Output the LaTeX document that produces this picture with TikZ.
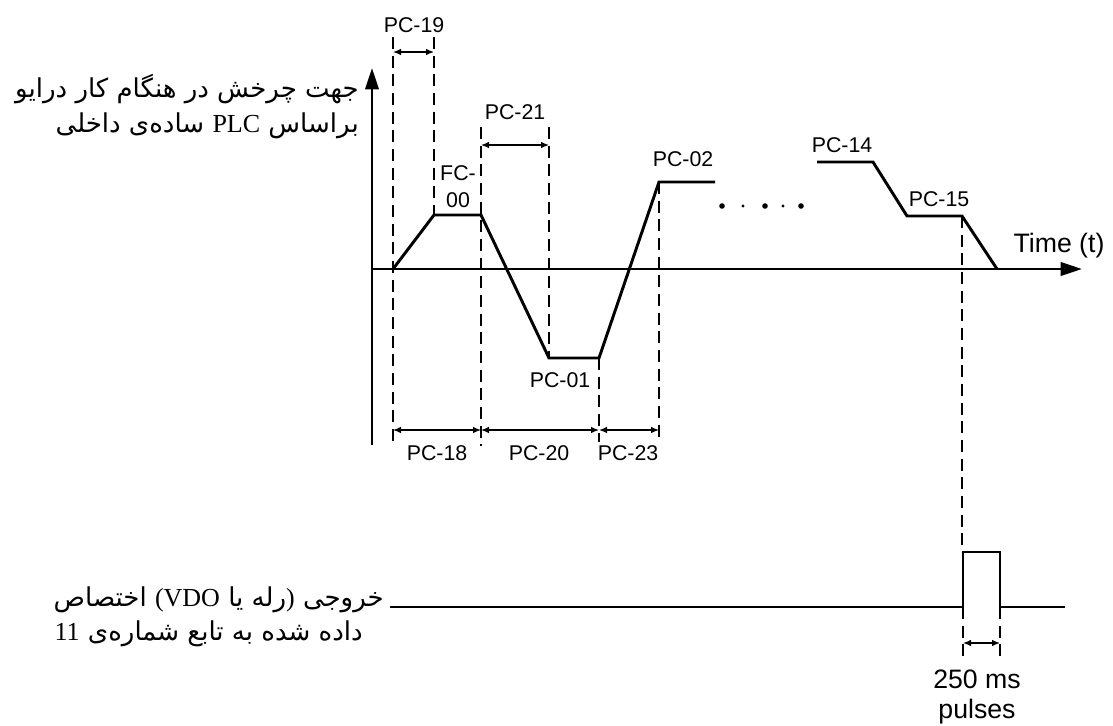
\documentclass[tikz,border=0pt]{standalone}
\usepackage{fontspec}
\setmainfont{Liberation Sans}
\newfontfamily\persianfont[Script=Arabic]{DejaVu Sans}
\newfontfamily\latinserif{Liberation Serif}
\TeXXeTstate=1
\usetikzlibrary{arrows.meta}

\newcommand{\lat}[1]{{\latinserif\fontsize{19.5}{23}\selectfont\beginL #1\endL}}
\newcommand{\latp}[1]{{\latinserif\fontsize{19.5}{23}\selectfont #1}}

\begin{document}
\begin{tikzpicture}[x=0.75pt, y=-0.75pt,
	wave/.style={line width=2.2pt, line join=miter},
	axis/.style={line width=2.2pt, -{Triangle[length=16pt, width=10pt]}},
	guide/.style={line width=2pt, dash pattern=on 9pt off 5pt},
	span/.style={{Latex[length=6pt, width=5pt]}-{Latex[length=6pt, width=5pt]}, line width=1pt},
	lbl/.style={font=\fontsize{16}{18}\selectfont, inner sep=0pt},
	big/.style={font=\fontsize{20}{23}\selectfont, inner sep=0pt},
	fa/.style={font=\persianfont\fontsize{19.5}{23}\selectfont, inner sep=0pt}
]
	\useasboundingbox (0,0) rectangle (1113,725);

	% Axes
	\coordinate (o)  at (372,269);
	\coordinate (yt) at (372,68);
	\coordinate (yb) at (372,445);
	\coordinate (xt) at (1082,269);
	\draw[axis] (yb) -- (yt);
	\draw[axis] (o) -- (xt);

	% Speed profile of the simple PLC
	\coordinate (p0) at (393,269);
	\coordinate (p1) at (434,215);
	\coordinate (p2) at (481,215);
	\coordinate (p3) at (549,358);
	\coordinate (p4) at (599,358);
	\coordinate (p5) at (659,182);
	\coordinate (p6) at (715,182);
	\draw[wave] (p0) -- (p1) -- (p2) -- (p3) -- (p4) -- (p5) -- (p6);

	\coordinate (q0) at (817,162);
	\coordinate (q1) at (873,162);
	\coordinate (q2) at (907,216);
	\coordinate (q3) at (962,216);
	\coordinate (q4) at (997,269);
	\draw[wave] (q0) -- (q1) -- (q2) -- (q3) -- (q4);

	% Dots between the segments
	\foreach \xx/\rr in {722/2.8, 743/1.6, 765/2.8, 783/1.6, 801/2.8}
		\fill (\xx,206) circle (\rr);

	% Dashed guides
	\draw[guide] (393,37) -- (393,442);
	\draw[guide] (434,37) -- (p1);
	\draw[guide] (481,127) -- (481,446);
	\draw[guide] (549,127) -- (p3);
	\draw[guide] (p4) -- (599,442);
	\draw[guide] (p5) -- (659,442);
	\draw[guide] (q3) -- (962,552);

	% Time spans
	\draw[span] (393,52) -- (434,52);
	\draw[span] (481,145) -- (549,145);
	\draw[span] (393,430) -- (481,430);
	\draw[span] (481,430) -- (599,430);
	\draw[span] (599,430) -- (659,430);

	% Labels
	\node[lbl] (pc19) at (414,25) {PC-19};
	\node[lbl] (pc21) at (515,112) {PC-21};
	\node[lbl] (fc)   at (458,173) {FC-};
	\node[lbl] (fc00) at (458,200) {00};
	\node[lbl] (pc02) at (683,159) {PC-02};
	\node[lbl] (pc01) at (560,380) {PC-01};
	\node[lbl] (pc14) at (842,145) {PC-14};
	\node[lbl] (pc15) at (939,199) {PC-15};
	\node[lbl] (pc18) at (437,453) {PC-18};
	\node[lbl] (pc20) at (539,453) {PC-20};
	\node[lbl] (pc23) at (628,453) {PC-23};
	\node[big] (time) at (1059,246) {Time (t)};

	% Output signal
	\coordinate (s0) at (390,607);
	\coordinate (s1) at (963,607);
	\coordinate (s2) at (963,552);
	\coordinate (s3) at (1000,552);
	\coordinate (s4) at (1000,607);
	\coordinate (s5) at (1065,607);
	\draw[wave] (s0) -- (s1) -- (s2) -- (s3) -- (s4) -- (s5);
	\draw[guide] (s1) -- (963,662);
	\draw[guide] (s4) -- (1000,662);
	\draw[span] (963,643) -- (1000,643);
	\node[big] (ms)  at (977,679) {250 ms};
	\node[big] (pul) at (977,712) {pulses};

	% Persian captions
	\node[fa, anchor=base east] (ytitle1) at (359,97)
		{\beginR جهت چرخش در هنگام کار درایو\endR};
	\node[fa, anchor=base east] (ytitle2) at (359,132)
		{\beginR براساس \lat{PLC} ساده‌ی داخلی\endR};
	\node[fa, anchor=base east] (otitle1) at (384,606)
		{\beginR خروجی \latp{)}رله یا \lat{VDO}\latp{(} اختصاص\endR};
	\node[fa, anchor=base east] (otitle2) at (363,640)
		{\beginR داده شده به تابع شماره‌ی \lat{11}\endR};
\end{tikzpicture}
\end{document}
